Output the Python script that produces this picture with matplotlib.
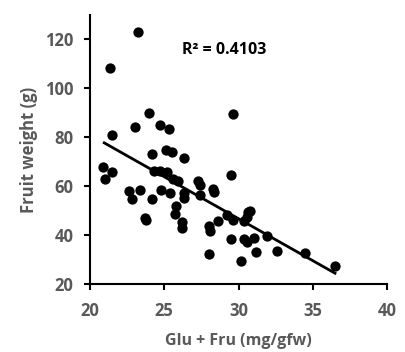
import matplotlib
matplotlib.use("Agg")
import matplotlib.pyplot as plt
import numpy as np

glu_fru = [23.2, 21.35, 21.5, 23.0, 24.0, 24.7, 25.3, 29.6, 20.9, 21.0, 21.5,
           24.2, 25.1, 25.5, 26.3, 24.3, 24.7, 25.2, 25.6, 25.9, 22.6, 22.8,
           23.4, 24.2, 24.8, 25.4, 26.3, 26.35, 25.8, 25.7, 26.2, 26.2, 23.7,
           23.75, 27.3, 27.4, 27.4, 28.3, 28.35, 29.5, 29.2, 29.6, 30.55, 30.8,
           30.66, 30.4, 28.6, 28.0, 28.1, 28.0, 29.5, 30.4, 30.55, 31.07, 31.9,
           31.2, 32.6, 30.2, 34.5, 36.5]
fruit_weight = [123, 108.5, 80.8, 84, 90, 85, 83.5, 89.5, 67.7, 62.9, 66.0,
                73.3, 75, 73.8, 71.5, 66.3, 66.3, 65.6, 62.9, 62, 57.9, 54.8,
                58.5, 54.7, 58.5, 57.4, 57.2, 55.0, 52, 48.6, 45.2, 42.9, 47,
                46, 62.3, 60.6, 56.5, 58.8, 57.6, 64.7, 48.3, 46.2, 47.6, 49.9,
                49.3, 45.9, 45.8, 43.9, 41.8, 32.3, 38.3, 38.4, 37, 38.7, 39.7,
                33, 33.4, 29.4, 32.8, 27.5]
trend_x = [20.96, 36.5]
slope = -3.43
intercept = 149.6
r2_label = "R² = 0.4103"
x_ticks = [20, 25, 30, 35, 40]
y_ticks = [20, 40, 60, 80, 100, 120]

gray = "#595959"
plt.rcParams['font.family'] = ['Open Sans', 'DejaVu Sans']

fig = plt.figure(figsize=(4.06, 3.52), dpi=100)
ax = fig.add_axes([90/406, 68/352, 297/406, 269/352])

ax.scatter(glu_fru, fruit_weight, s=55, color="black", zorder=3, linewidths=0)
tx = np.array(trend_x)
ax.plot(tx, slope * tx + intercept, color="black", lw=2.0, zorder=2)

ax.set_xlim(20, 40)
ax.set_ylim(20, 130)
ax.set_xticks(x_ticks)
ax.set_yticks(y_ticks)
for s in ["top", "right"]:
    ax.spines[s].set_visible(False)
for s in ["left", "bottom"]:
    ax.spines[s].set_linewidth(1.5)
    ax.spines[s].set_color("black")
ax.tick_params(direction="out", length=4, width=1.5, colors="black",
               labelcolor=gray, labelsize=12)
ax.tick_params(axis="x", pad=9)
ax.tick_params(axis="y", pad=8)
for lab in ax.get_xticklabels() + ax.get_yticklabels():
    lab.set_fontweight("bold")

ax.set_xlabel("Glu + Fru (mg/gfw)", fontsize=11.5, fontweight="bold", color=gray, labelpad=9)
ax.set_ylabel("Fruit weight (g)", fontsize=12, fontweight="bold", color=gray, labelpad=5)

ax.text(26.2, 115.5, r2_label, fontsize=11.5, fontweight="bold", color="black",
        va="center", ha="left")

fig.savefig("out.png", dpi=100)
